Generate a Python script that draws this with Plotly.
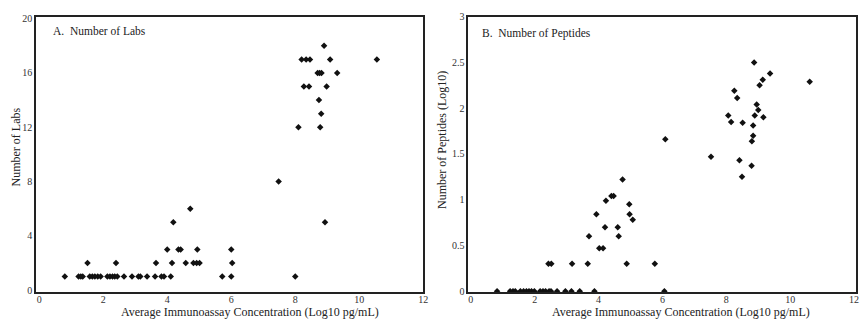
import plotly.graph_objects as go

# Panel A: Number of Labs vs concentration
labs_x = [0.80, 1.23, 1.30, 1.36, 1.58, 1.66, 1.74, 1.83, 1.92, 2.13, 2.21, 2.29, 2.36, 2.44,
          2.65, 2.90, 3.10, 3.16, 3.37, 3.62, 3.82, 3.90, 4.11, 5.72, 6.00, 8.00,
          1.51, 2.40, 3.65, 4.15, 4.58, 4.82, 4.92, 5.01, 6.03,
          4.00, 4.35, 4.42, 4.94, 6.00,
          4.19, 8.93, 4.72, 7.48,
          8.10, 8.78, 8.81, 8.74,
          8.27, 8.43, 8.98,
          8.70, 8.76, 8.82, 9.31,
          8.20, 8.34, 8.46, 9.09, 10.55,
          8.90]
labs_y = [1] * 26 + [2] * 9 + [3] * 5 + [5, 5, 6, 8] + [12, 12, 13, 14] + [15] * 3 + [16] * 4 + [17] * 5 + [18]

# Panel B: Number of Peptides (Log10) vs concentration
pep_x = [0.82, 1.23, 1.32, 1.39, 1.55, 1.65, 1.74, 1.82, 1.90, 1.99, 2.17, 2.26, 2.34, 2.45,
         2.51, 2.70, 2.96, 3.15, 3.41, 3.87, 6.06,
         2.43, 2.52, 3.17, 3.66, 4.88, 5.76,
         4.02, 4.14,
         3.70, 4.63,
         4.20, 4.60,
         5.07,
         3.93, 4.97,
         4.96,
         4.23,
         4.40, 4.47,
         4.75,
         8.49, 8.79, 8.41, 7.52, 8.80, 6.09, 8.84, 8.84,
         8.51, 8.15, 9.16, 8.89, 8.06, 9.00, 8.95, 8.34, 8.25,
         9.04, 10.61, 9.14, 9.37, 8.87]
pep_y = [0.0] * 21 + [0.30] * 6 + [0.47] * 2 + [0.60] * 2 + [0.70] * 2 + [0.78] + [0.84] * 2 + [0.95] + [0.99] + [1.04] * 2 + [1.22] + \
        [1.25, 1.37, 1.43, 1.47, 1.64, 1.66, 1.70, 1.81,
         1.84, 1.85, 1.90, 1.92, 1.92, 1.98, 2.04, 2.11, 2.19,
         2.25, 2.29, 2.31, 2.38, 2.50]

x_ticks = [0, 2, 4, 6, 8, 10, 12]
labs_ticks = [0, 4, 8, 12, 16, 20]
pep_ticks = [0, 0.5, 1, 1.5, 2, 2.5, 3]
pep_tick_text = ["0", "0.5", "1", "1.5", "2", "2.5", "3"]

FONT = "Liberation Serif"
TXT = "#222222"
W, H = 861, 320
marker = dict(symbol="diamond", size=5, color="#111111")

fig = go.Figure()
fig.add_trace(go.Scatter(x=labs_x, y=labs_y, mode="markers", marker=marker,
                         xaxis="x", yaxis="y", showlegend=False))
fig.add_trace(go.Scatter(x=pep_x, y=pep_y, mode="markers", marker=marker,
                         xaxis="x2", yaxis="y2", showlegend=False))

axis_common = dict(showgrid=False, zeroline=False, showline=True, linecolor="#222222",
                   linewidth=1.5, mirror=True, ticks="", automargin=False,
                   tickfont=dict(family=FONT, size=10, color="#333333"))
title_font = dict(family=FONT, size=12, color=TXT)
panel_font = dict(family=FONT, size=11.5, color=TXT)


def ann(text, px, py, font, angle=0, xanchor="center"):
    return dict(text=text, xref="paper", yref="paper", x=px / W, y=1 - py / H,
                xanchor=xanchor, yanchor="middle", showarrow=False, textangle=angle, font=font)


fig.update_layout(
    width=W, height=H,
    margin=dict(l=0, r=0, t=0, b=0),
    paper_bgcolor="white", plot_bgcolor="white",
    font=dict(family=FONT, color=TXT),
    xaxis=dict(domain=[0.0418, 0.4916], range=[-0.1, 12.0], tickvals=x_ticks,
               anchor="y", ticklabelstandoff=-3, **axis_common),
    yaxis=dict(domain=[0.087, 0.948], range=[-0.15, 20.15], tickvals=labs_ticks,
               anchor="x", **axis_common),
    xaxis2=dict(domain=[0.5439, 0.9938], range=[-0.08, 12.05], tickvals=x_ticks,
                anchor="y2", ticklabelstandoff=-3, **axis_common),
    yaxis2=dict(domain=[0.087, 0.948], range=[-0.01, 3.0], tickvals=pep_ticks, ticktext=pep_tick_text,
                anchor="x2", **axis_common),
    annotations=[
        ann("A.  Number of Labs", 51, 31.5, panel_font, xanchor="left"),
        ann("B.  Number of Peptides", 480, 33, panel_font, xanchor="left"),
        ann("Average Immunoassay Concentration (Log10 pg/mL)", 250, 311.5, title_font),
        ann("Average Immunoassay Concentration (Log10 pg/mL)", 681, 311.5, title_font),
        ann("Number of Labs", 15, 147.5, title_font, angle=-90),
        ann("Number of Peptides (Log10)", 442, 140, title_font, angle=-90),
    ],
)

fig.write_html("out.html", config={"displayModeBar": False},
               post_script="document.body.style.margin='0';")
